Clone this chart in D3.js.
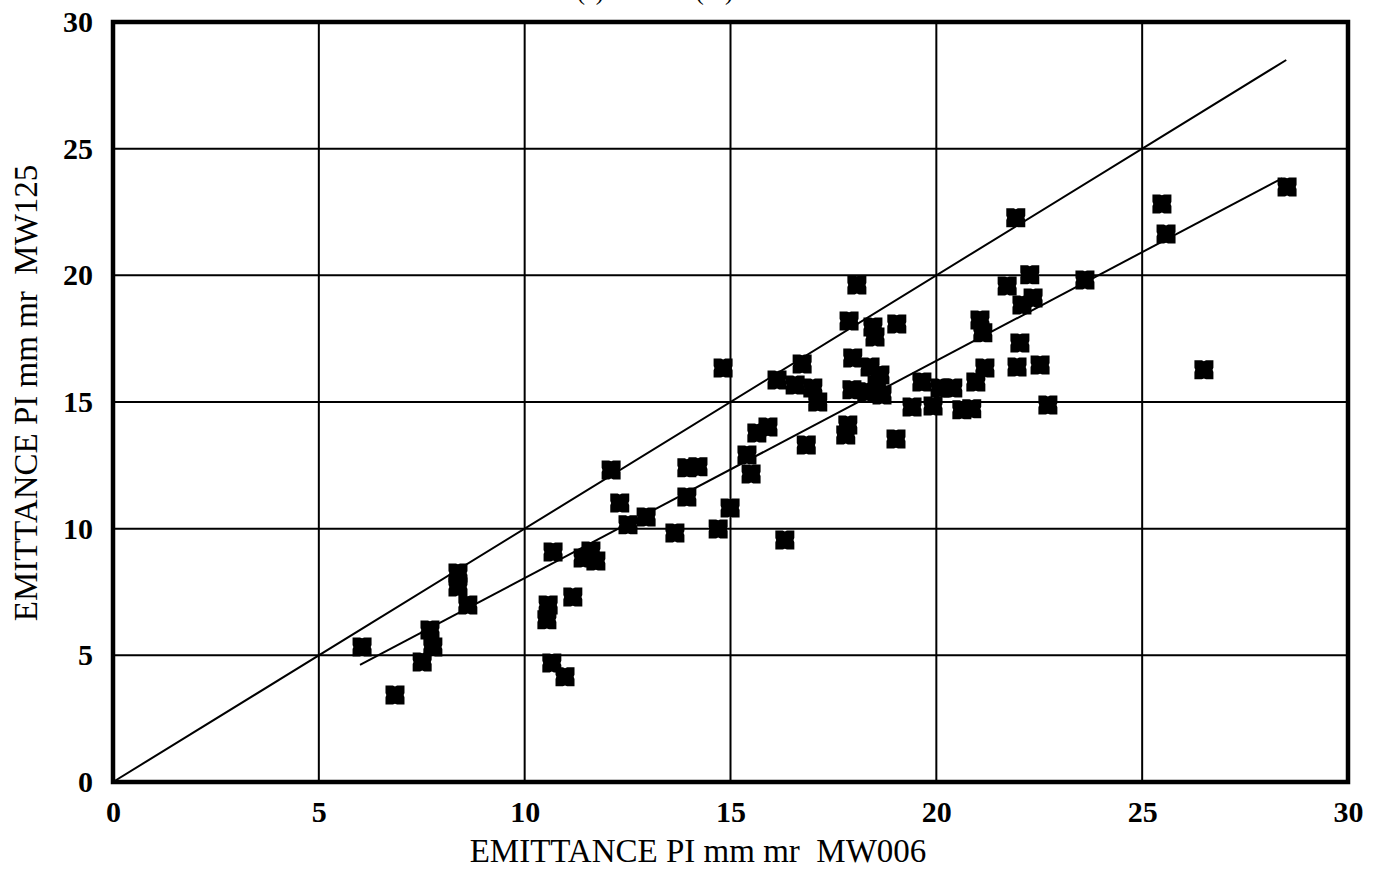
<!DOCTYPE html>
<html>
<head>
<meta charset="utf-8">
<script src="https://cdn.jsdelivr.net/npm/d3@7"></script>
<style>
  body { margin: 0; background: #fff; }
  text { font-family: "Liberation Serif", "DejaVu Serif", serif; fill: #000; }
  .tick-label { font-size: 30px; font-weight: bold; }
  .axis-title { font-size: 33px; white-space: pre; }
</style>
</head>
<body>
<div id="chart"></div>
<script>
// emittance, MW006 (x) vs MW125 (y)
var mw006 = [6.05, 6.85, 7.51, 7.70, 7.77, 8.38, 8.38, 8.62, 10.54, 10.57,
    10.69, 10.66, 10.98, 11.17, 11.42, 11.61, 11.73, 12.10, 12.31, 12.51,
    12.95, 13.65, 13.94, 14.21, 13.94, 14.70, 14.82, 14.99, 15.40, 15.50,
    15.64, 15.91, 16.13, 16.32, 16.57, 16.74, 16.84, 17.00, 17.12, 17.80,
    17.85, 17.88, 17.95, 17.97, 18.07, 18.39, 18.31, 18.46, 18.51, 18.56,
    18.63, 18.68, 19.04, 19.02, 19.41, 19.65, 19.92, 20.09, 20.40, 20.62,
    20.86, 20.96, 21.06, 21.13, 21.18, 21.72, 21.93, 21.96, 22.03, 22.08,
    22.27, 22.35, 22.52, 22.71, 23.61, 25.48, 25.58, 26.50, 28.52];
var mw125 = [5.33, 3.43, 4.74, 6.00, 5.33, 8.25, 7.70, 6.99, 6.40, 6.99,
    9.08, 4.70, 4.15, 7.30, 8.84, 9.12, 8.72, 12.32, 11.01, 10.15,
    10.46, 9.83, 12.40, 12.44, 11.25, 9.99, 16.34, 10.82, 12.91, 12.16,
    13.78, 14.01, 15.87, 9.55, 15.67, 16.50, 13.30, 15.55, 15.00, 13.70,
    14.09, 18.20, 15.48, 16.74, 19.62, 16.38, 15.40, 17.96, 17.57, 15.67,
    16.07, 15.28, 18.08, 13.54, 14.80, 15.79, 14.84, 15.55, 15.55, 14.69,
    14.73, 15.79, 18.24, 17.73, 16.34, 19.58, 22.27, 16.38, 17.33, 18.83,
    20.02, 19.11, 16.46, 14.88, 19.82, 22.82, 21.63, 16.27, 23.49];

var ticks = [0, 5, 10, 15, 20, 25, 30];

// lines: equality line and the linear fit
var equalLine = [[0, 0], [28.5, 28.5]];
var fitLine = [[6.0, 4.62], [28.4, 23.83]];

var data = mw006.map(function(d, i) { return {x: d, y: mw125[i]}; });

var margin = {top: 22, right: 32, bottom: 93, left: 113},
    width = 1380 - margin.left - margin.right,
    height = 875 - margin.top - margin.bottom;

var svg = d3.select("#chart").append("svg")
    .attr("width", 1380)
    .attr("height", 875);

var g = svg.append("g")
    .attr("transform", "translate(" + margin.left + "," + margin.top + ")");

var x = d3.scaleLinear().domain([0, 30]).range([0, width]);
var y = d3.scaleLinear().domain([0, 30]).range([height, 0]);

// grid
g.selectAll("line.vgrid")
    .data(ticks.slice(1, -1))
    .enter().append("line")
    .attr("class", "vgrid")
    .attr("x1", function(d) { return x(d); })
    .attr("x2", function(d) { return x(d); })
    .attr("y1", 0).attr("y2", height)
    .attr("stroke", "#000").attr("stroke-width", 2);

g.selectAll("line.hgrid")
    .data(ticks.slice(1, -1))
    .enter().append("line")
    .attr("class", "hgrid")
    .attr("y1", function(d) { return y(d); })
    .attr("y2", function(d) { return y(d); })
    .attr("x1", 0).attr("x2", width)
    .attr("stroke", "#000").attr("stroke-width", 2);

// frame
g.append("rect")
    .attr("x", 0).attr("y", 0)
    .attr("width", width).attr("height", height)
    .attr("fill", "none")
    .attr("stroke", "#000")
    .attr("stroke-width", 4.5);

// axes (labels only)
var xAxis = g.append("g")
    .attr("transform", "translate(0," + height + ")")
    .call(d3.axisBottom(x).tickValues(ticks).tickSize(0).tickPadding(22));
var yAxis = g.append("g")
    .call(d3.axisLeft(y).tickValues(ticks).tickSize(0).tickPadding(20));

[xAxis, yAxis].forEach(function(a) {
    a.select(".domain").remove();
    a.selectAll("text")
        .attr("class", "tick-label");
    a.attr("font-family", null).attr("font-size", null);
});
xAxis.selectAll("text").attr("dy", "0.6em");

var line = d3.line()
    .x(function(d) { return x(d[0]); })
    .y(function(d) { return y(d[1]); });

g.append("path").datum(equalLine)
    .attr("d", line).attr("fill", "none")
    .attr("stroke", "#000").attr("stroke-width", 2);
g.append("path").datum(fitLine)
    .attr("d", line).attr("fill", "none")
    .attr("stroke", "#000").attr("stroke-width", 2);

// square marker with small nicks in the sides, like the printed one
var notchedSquare = {
    draw: function(context, size) {
        var h = Math.sqrt(size) / 2, n = h * 0.09, w = h * 0.22;
        context.moveTo(-h, -h);
        context.lineTo(-w, -h); context.lineTo(0, -h + n); context.lineTo(w, -h);
        context.lineTo(h, -h);
        context.lineTo(h, -w); context.lineTo(h - n, 0); context.lineTo(h, w);
        context.lineTo(h, h);
        context.lineTo(w, h); context.lineTo(0, h - n); context.lineTo(-w, h);
        context.lineTo(-h, h);
        context.lineTo(-h, w); context.lineTo(-h + n, 0); context.lineTo(-h, -w);
        context.closePath();
    }
};

g.selectAll("path.pt")
    .data(data)
    .enter().append("path")
    .attr("class", "pt")
    .attr("transform", function(d) { return "translate(" + x(d.x) + "," + y(d.y) + ")"; })
    .attr("d", d3.symbol().type(notchedSquare).size(19 * 19))
    .attr("fill", "#000");

// titles
svg.append("text")
    .attr("class", "axis-title")
    .attr("x", 698).attr("y", 862)
    .attr("text-anchor", "middle")
    .text("EMITTANCE PI mm mr  MW006");

svg.append("text")
    .attr("class", "axis-title")
    .attr("transform", "translate(37," + 393 + ") rotate(-90)")
    .attr("text-anchor", "middle")
    .text("EMITTANCE PI mm mr  MW125");

// chart title, cut by the top of the scan
svg.append("text")
    .attr("x", 577).attr("y", 0)
    .attr("font-size", 24)
    .text("(a) MW125 (PI)");
</script>
</body>
</html>
